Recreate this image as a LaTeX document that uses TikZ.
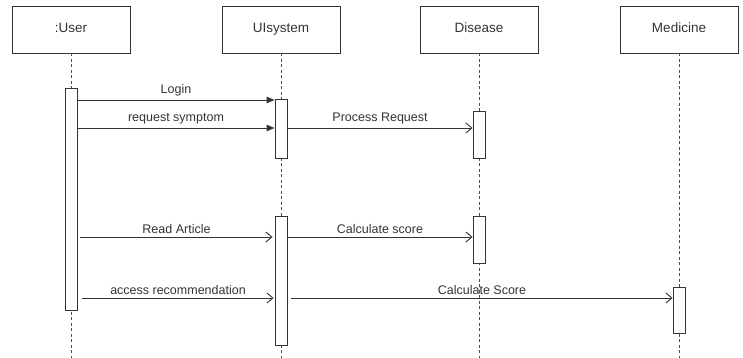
\documentclass[tikz,border=0pt]{standalone}
\usepackage{fontspec}
\setmainfont{Liberation Sans}
\usetikzlibrary{arrows.meta}

\begin{document}
\begin{tikzpicture}[
		x=1pt, y=-1pt,
		line width=0.9pt,
		actor/.style={rectangle, draw=black!80, minimum width=118pt, minimum height=47pt, text height=10pt, text depth=3pt, font=\fontsize{13.5}{16}\selectfont, text=black!80},
		lifeline/.style={draw=black!70, line width=0.8pt, dash pattern=on 3pt off 2.5pt},
		act/.style={rectangle, draw=black!80, fill=white, minimum width=12pt, inner sep=0pt},
		sync/.style={draw=black!80, -{Triangle[length=8pt, width=6.5pt]}},
		async/.style={draw=black!80, -{Straight Barb[length=6pt, width=10pt]}},
		msg label/.style={font=\fontsize{12.5}{15}\selectfont, text=black!80, above, inner sep=3pt, midway}
	]
	\useasboundingbox (0,0) rectangle (743,358);

	\node[actor] (user) at (71,29.5) {:User};
	\node[actor] (ui) at (281,29.5) {UIsystem};
	\node[actor] (disease) at (479,29.5) {Disease};
	\node[actor] (medicine) at (679,29.5) {Medicine};

	\coordinate (bottom) at (0,358);
	\foreach \n in {user, ui, disease, medicine}
		\draw[lifeline] (\n.south) -- (\n.south |- bottom);

	\node[act, minimum height=222pt] (useract) at (user.south |- 0,199) {};
	\node[act, minimum height=59pt] (uiact1) at (ui.south |- 0,128.5) {};
	\node[act, minimum height=47pt] (disact1) at (disease.south |- 0,134.5) {};
	\node[act, minimum height=129pt] (uiact2) at (ui.south |- 0,280.5) {};
	\node[act, minimum height=47pt] (disact2) at (disease.south |- 0,239.5) {};
	\node[act, minimum height=46pt] (medact) at (medicine.south |- 0,310) {};

	\coordinate (m1) at (0,100);
	\coordinate (m2) at (0,128);
	\coordinate (m3) at (0,237);
	\coordinate (m4) at (0,298);

	\draw[sync] (useract.east |- m1) -- (uiact1.west |- m1) node[msg label] {Login};
	\draw[sync] (useract.east |- m2) -- (uiact1.west |- m2) node[msg label] {request symptom};
	\draw[async] (uiact1.east |- m2) -- (disact1.west |- m2) node[msg label] {Process Request};
	\draw[async] ([xshift=3pt]useract.east |- m3) -- ([xshift=-2pt]uiact2.west |- m3) node[msg label] {Read Article};
	\draw[async] (uiact2.east |- m3) -- (disact2.west |- m3) node[msg label] {Calculate score};
	\draw[async] ([xshift=5pt]useract.east |- m4) -- ([xshift=-1pt]uiact2.west |- m4) node[msg label] {access recommendation};
	\draw[async] ([xshift=4pt]uiact2.east |- m4) -- (medact.west |- m4) node[msg label] {Calculate Score};
\end{tikzpicture}
\end{document}
